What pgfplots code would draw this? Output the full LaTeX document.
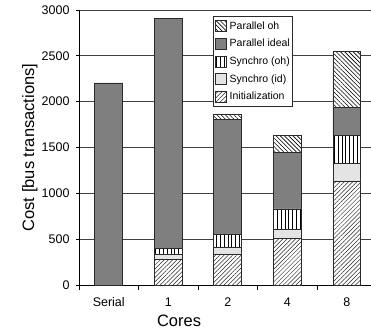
\documentclass[border=0pt]{standalone}
\usepackage{pgfplots}
\pgfplotsset{compat=1.18}
\usetikzlibrary{patterns.meta}
\usepackage{fontspec}
\setmainfont{Liberation Sans}
\definecolor{pideal}{HTML}{7F7F7F}
\definecolor{sid}{HTML}{E4E4E4}
\definecolor{edge}{HTML}{2A2A2A}
\definecolor{gridc}{HTML}{404040}
\begin{document}
\begin{tikzpicture}
\useasboundingbox (-79pt,-50pt) rectangle (292pt,285pt);
\begin{axis}[
  scale only axis, width=292pt, height=275pt,
  anchor=south west, at={(0pt,0pt)},
  ybar stacked, bar width=0.47,
  xmin=-0.5, xmax=4.407, ymin=0, ymax=3000,
  axis x line=bottom, axis y line=left,
  axis line style={-, black, line width=0.8pt},
  xtick={0,1,2,3,4}, xticklabels={Serial,1,2,4,8},
  minor xtick={-0.5,0.5,1.5,2.5,3.5},
  ytick={0,500,1000,1500,2000,2500,3000},
  tick align=outside,
  major x tick style={draw=none},
  minor x tick style={black, line width=0.8pt},
  major y tick style={black, line width=0.8pt},
  minor tick length=5pt, major tick length=3pt,
  ymajorgrids, grid style={gridc, line width=0.7pt},
  /pgf/number format/assume math mode=true,
  /pgf/number format/1000 sep={},
  tick label style={font=\fontsize{12.5}{14}\selectfont},
  yticklabel style={xshift=-3pt},
  xticklabel style={yshift=-6pt},
  xlabel={Cores}, ylabel={Cost [bus transactions]},
  label style={font=\fontsize{16.5}{19}\selectfont},
  xlabel style={at={(axis description cs:0.3425,-0.131)}, anchor=center},
  ylabel style={at={(axis description cs:-0.168,0.5)}, anchor=center},
  reverse legend,
  legend cell align=left,
  legend style={at={(0.459,0.978)}, anchor=north west, draw=edge, line width=0.6pt,
    fill=white, font=\fontsize{10.5}{12}\selectfont, row sep=6pt, inner xsep=1.5pt, inner ysep=4pt,
    nodes={inner sep=0.8pt}},
  legend image code/.code={\draw[#1] (0pt,-5.5pt) rectangle (11pt,5.5pt); \path (13.5pt,0pt);},
]
\addplot[fill=white, draw=edge, line width=0.6pt,
  postaction={pattern color=edge, pattern={Lines[angle=45,distance=3pt,line width=0.5pt]}}]
  coordinates {(0,0) (1,280) (2,340) (3,510) (4,1135)};
\addlegendentry{Initialization}
\addplot[fill=sid, draw=edge, line width=0.6pt]
  coordinates {(0,0) (1,60) (2,70) (3,100) (4,195)};
\addlegendentry{Synchro (id)}
\addplot[fill=white, draw=edge, line width=0.6pt,
  postaction={pattern color=black, pattern={Lines[angle=90,distance=3.8pt,line width=0.8pt]}}]
  coordinates {(0,0) (1,60) (2,140) (3,220) (4,300)};
\addlegendentry{Synchro (oh)}
\addplot[fill=pideal, draw=edge, line width=0.6pt]
  coordinates {(0,2205) (1,2505) (2,1255) (3,620) (4,310)};
\addlegendentry{Parallel ideal}
\addplot[fill=white, draw=edge, line width=0.6pt,
  postaction={pattern color=black, pattern={Lines[angle=-45,distance=3pt,line width=0.6pt]}}]
  coordinates {(0,0) (1,0) (2,55) (3,185) (4,605)};
\addlegendentry{Parallel oh}
\end{axis}
\end{tikzpicture}
\end{document}
